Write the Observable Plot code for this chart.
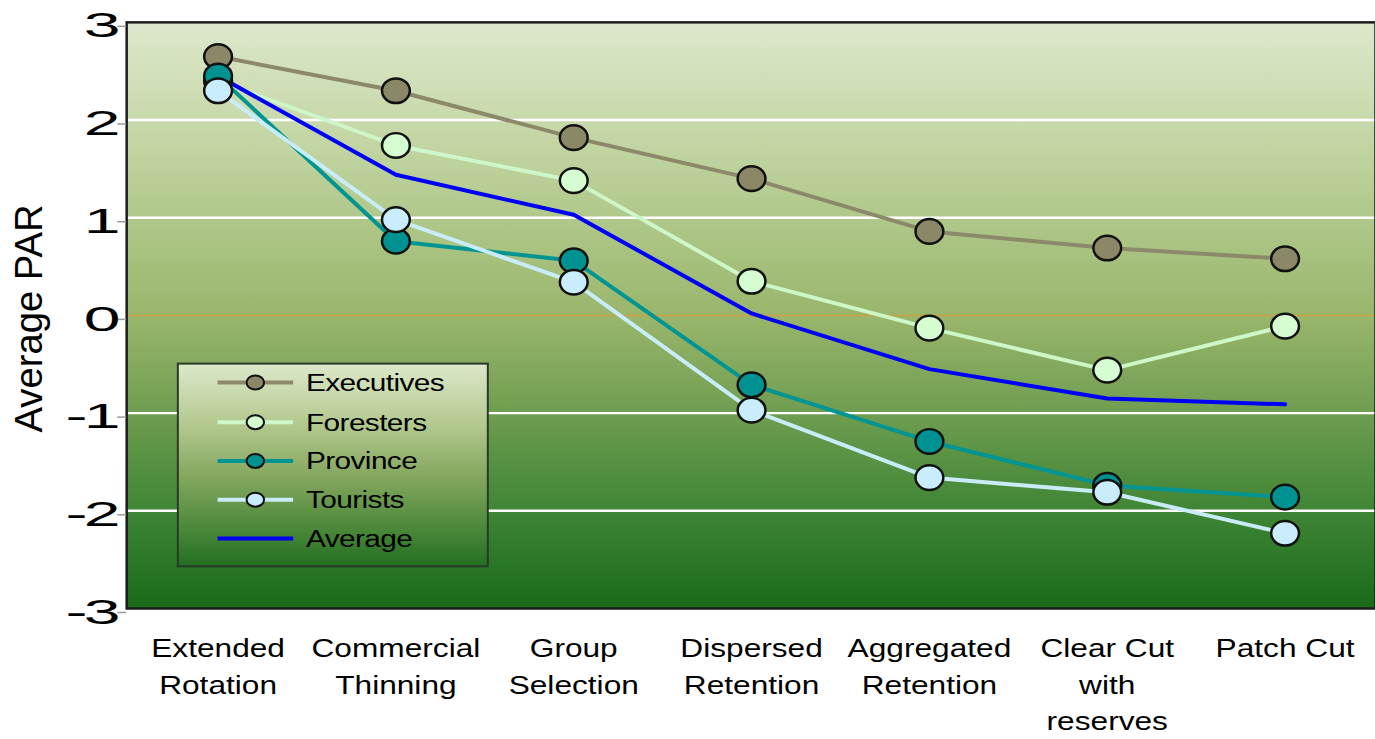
<!DOCTYPE html>
<html>
<head>
<meta charset="utf-8">
<script src="https://cdn.jsdelivr.net/npm/d3@7"></script>
<script src="https://cdn.jsdelivr.net/npm/@observablehq/plot@0.6"></script>
<style>
  html, body { margin: 0; padding: 0; background: #fff; overflow: hidden; }
</style>
</head>
<body>
<div id="chart"></div>
<script>
// Harvest treatments (x categories) and the average PAR of each respondent group
const categories = [
  "Extended\nRotation",
  "Commercial\nThinning",
  "Group\nSelection",
  "Dispersed\nRetention",
  "Aggregated\nRetention",
  "Clear Cut\nwith\nreserves",
  "Patch Cut"
];
const executives = [2.65, 2.30, 1.82, 1.40, 0.86, 0.69, 0.58];
const foresters  = [2.40, 1.74, 1.38, 0.35, -0.13, -0.56, -0.11];
const province   = [2.45, 0.76, 0.56, -0.71, -1.29, -1.74, -1.86];
const tourists   = [2.30, 0.98, 0.34, -0.97, -1.66, -1.81, -2.23];
const average    = [2.45, 1.44, 1.03, 0.02, -0.55, -0.85, -0.91];
const yTicks = [-3, -2, -1, 0, 1, 2, 3];
const gridValues = [-2, -1, 1, 2];

const series = [
  {name: "Executives", values: executives, line: "#8b8969", fill: "#8a8866", marker: true},
  {name: "Foresters",  values: foresters,  line: "#cdf7c8", fill: "#d6fcd1", marker: true},
  {name: "Province",   values: province,   line: "#009593", fill: "#009290", marker: true},
  {name: "Tourists",   values: tourists,   line: "#c8ecf8", fill: "#c9edfc", marker: true},
  {name: "Average",    values: average,    line: "#0000f5", fill: null,      marker: false}
];
const rowsOf = s => s.values.map((v, i) => ({series: s.name, category: categories[i], value: v}));

// Slightly wide oval marker
const oval = {
  draw(ctx, size) {
    const r = Math.sqrt(size / Math.PI), rx = r * 1.06, ry = r * 0.94, k = 0.5523;
    ctx.moveTo(rx, 0);
    ctx.bezierCurveTo(rx, ry * k, rx * k, ry, 0, ry);
    ctx.bezierCurveTo(-rx * k, ry, -rx, ry * k, -rx, 0);
    ctx.bezierCurveTo(-rx, -ry * k, -rx * k, -ry, 0, -ry);
    ctx.bezierCurveTo(rx * k, -ry, rx, -ry * k, rx, 0);
    ctx.closePath();
  }
};

const font = "'Liberation Sans', Arial, sans-serif";

const chart = Plot.plot({
  width: 1384,
  height: 739,
  marginTop: 22,
  marginBottom: 127,
  marginLeft: 127,
  marginRight: 0,
  style: {fontFamily: font, background: "#fff", color: "#000"},
  x: {type: "point", domain: categories, padding: 0.5},
  y: {domain: [-3, 3]},
  marks: [
    Plot.frame({fill: "url(#plotBg)", stroke: null}),
    Plot.ruleY(gridValues, {stroke: "#ffffff", strokeWidth: 2.5}),
    Plot.ruleY([0], {stroke: "#c9a342", strokeWidth: 1.5}),
    Plot.frame({stroke: "#1c1c1c", strokeWidth: 2.5, fill: "none"}),
    Plot.axisY(yTicks, {
      tickSize: 9, tickPadding: 1, stroke: "#9a9a9a", strokeWidth: 1.5,
      fontSize: 35, dy: 4, label: null,
      tickFormat: d => (d < 0 ? "-" + (-d) : String(d))
    }),
    Plot.axisX({
      tickSize: 0, tickPadding: 23, fontSize: 25.5, lineHeight: 1.44,
      label: null, tickFormat: d => d
    }),
    Plot.text(["Average PAR"], {
      frameAnchor: "left", dx: -98, dy: 3, rotate: -90,
      fontSize: 38.5, textAnchor: "middle", lineAnchor: "middle", fill: "#000"
    }),
    ...series.map(s => Plot.line(rowsOf(s), {x: "category", y: "value", stroke: s.line, strokeWidth: 4})),
    ...series.filter(s => s.marker).map(s => Plot.dot(rowsOf(s), {
      x: "category", y: "value", r: 13.2, symbol: oval,
      fill: s.fill, stroke: "#111", strokeWidth: 2.5
    }))
  ]
});

document.getElementById("chart").append(chart);

const svg = d3.select(chart);

// Horizontally widen text around its anchor point
function widen(sel, k) {
  sel.each(function () {
    const x = +this.getAttribute("x") || 0, y = +this.getAttribute("y") || 0;
    const t = this.getAttribute("transform") || "";
    this.setAttribute("transform", `${t} translate(${x},${y}) scale(${k},1) translate(${-x},${-y})`);
  });
}
svg.selectAll('g[aria-label="y-axis tick label"]').style("letter-spacing", "-2px");
widen(svg.selectAll('g[aria-label="y-axis tick label"] text'), 1.9);
widen(svg.selectAll('g[aria-label="x-axis tick label"] text'), 1.25);

// Gradients for the plot area and the legend box
const defs = svg.insert("defs", ":first-child");
function gradient(id, stops) {
  const g = defs.append("linearGradient").attr("id", id)
    .attr("x1", 0).attr("x2", 0).attr("y1", 0).attr("y2", 1);
  stops.forEach(([o, c]) => g.append("stop").attr("offset", o).attr("stop-color", c));
}
gradient("plotBg", [
  [0, "#dde8cb"], [0.167, "#c8d9ab"], [0.333, "#b0c88a"], [0.5, "#99b66c"],
  [0.667, "#6f9d50"], [0.833, "#3f8535"], [1, "#196b19"]
]);
gradient("legendBg", [
  [0, "#dce8ca"], [0.3, "#b3c98e"], [0.55, "#86a860"], [0.8, "#4e8a3c"], [1, "#236f21"]
]);

// Legend
const legend = svg.append("g").attr("aria-label", "legend")
  .style("font-family", font).attr("text-anchor", "start");
legend.append("rect")
  .attr("x", 179).attr("y", 366).attr("width", 312).attr("height", 204)
  .attr("fill", "url(#legendBg)").attr("stroke", "#2a3a2a").attr("stroke-width", 2);
const rowY = [385, 425, 464, 503, 542];
series.forEach((s, i) => {
  const y = rowY[i];
  legend.append("line").attr("x1", 219).attr("x2", 295).attr("y1", y).attr("y2", y)
    .attr("stroke", s.line).attr("stroke-width", 4);
  if (s.marker) {
    legend.append("ellipse").attr("cx", 257).attr("cy", y).attr("rx", 8.8).attr("ry", 7)
      .attr("fill", s.fill).attr("stroke", "#111").attr("stroke-width", 2);
  }
  legend.append("text").attr("x", 0).attr("y", 0)
    .attr("text-anchor", "start")
    .attr("transform", `translate(308,${y + 8.5}) scale(1.2,1)`)
    .attr("font-size", 25).attr("fill", "#000").style("letter-spacing", "-0.5px")
    .text(s.name);
});
</script>
</body>
</html>
